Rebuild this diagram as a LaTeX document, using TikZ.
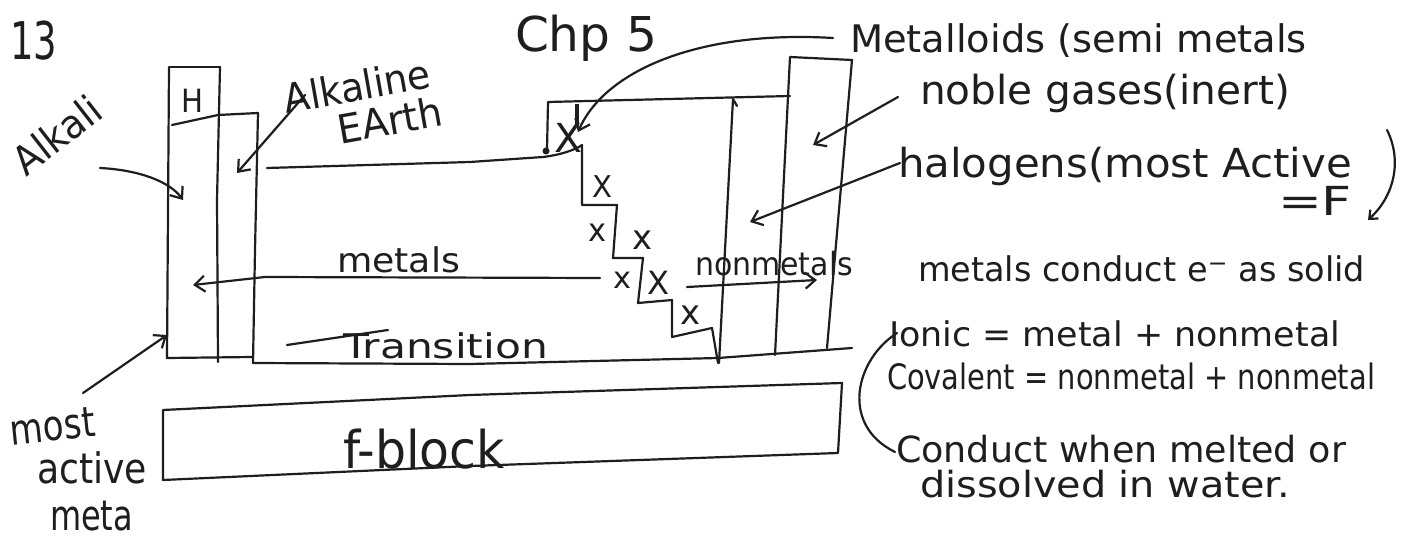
\documentclass[tikz,border=0pt]{standalone}
\usepackage{fontspec}
\setmainfont{DejaVu Sans}
\usepackage{graphicx}
\usetikzlibrary{arrows.meta}
\definecolor{ink}{HTML}{1E1E1E}
% width in pt, font size in pt, text: keeps the height, fits the width
\newcommand\hw[3]{\resizebox{#1pt}{\height}{\fontsize{#2}{#2}\selectfont #3}}
\begin{document}
\begin{tikzpicture}[x=1pt,y=-1pt,
  pen/.style={line width=2.2pt, line cap=round, line join=round, draw=ink},
  arr/.style={pen,-{Straight Barb[length=10pt,width=16pt,line width=2.2pt]}},
  lab/.style={inner sep=0pt, outer sep=0pt, text=ink, anchor=base west},
  xm/.style={inner sep=0pt, outer sep=0pt, text=ink, anchor=center}]
\useasboundingbox (0,0) rectangle (1405,540);
\fill[white] (0,0) rectangle (1405,540);

% ---- texts ----
\node[lab] (t13) at (10,60) {\hw{47}{52}{13}};
\node[lab] (chp) at (515,52) {\hw{142}{48}{Chp 5}};
\node[xm,rotate=38] (alkali) at (57,135) {\hw{100}{40}{Alkali}};
\node[xm,rotate=10] (alkaline) at (357,86) {\hw{148}{40}{Alkaline}};
\node[xm,rotate=10] (earth) at (390,120) {\hw{106}{40}{EArth}};
\node[xm] (H) at (192,101) {\hw{22}{32}{H}};
\node[lab] (metals) at (337,272) {\hw{123}{34}{metals}};
\node[lab] (transition) at (343,358) {\hw{205}{34}{Transition}};
\node[lab] (nonmetals) at (695,275) {\hw{158}{32}{nonmetals}};
\node[lab] (fblock) at (343,468) {\hw{162}{52}{f-block}};
\node[lab,rotate=6] (most) at (12,445) {\hw{85}{42}{most}};
\node[lab] (active) at (37,483) {\hw{110}{42}{active}};
\node[lab] (meta) at (50,530) {\hw{83}{42}{meta}};

\node[lab] (metalloids) at (850,53) {\hw{457}{38}{Metalloids (semi metals}};
\node[lab] (noble) at (920,105) {\hw{370}{40}{noble gases(inert)}};
\node[lab] (halogens) at (898,178) {\hw{454}{40}{halogens(most Active}};
\node[lab] (eqF) at (1278,215) {\hw{74}{40}{=F}};
\node[lab] (solid) at (918,281) {\hw{447}{34}{metals conduct e\textsuperscript{−} as solid}};
\node[lab] (ionic) at (889,346) {\hw{451}{34}{Ionic = metal + nonmetal}};
\node[lab] (covalent) at (887,389) {\hw{488}{35}{Covalent = nonmetal + nonmetal}};
\node[lab] (melted) at (896,462) {\hw{450}{36}{Conduct when melted or}};
\node[lab] (water) at (920,497) {\hw{370}{36}{dissolved in water.}};

% ---- X marks ----
\node[xm] (x1) at (568,138) {\hw{28}{40}{X}};
\node[xm] (x2) at (602,187) {\hw{20}{30}{X}};
\node[xm] (x3) at (597,233) {\hw{18}{32}{x}};
\node[xm] (x4) at (642,240) {\hw{20}{34}{x}};
\node[xm] (x5) at (622,280) {\hw{18}{30}{x}};
\node[xm] (x6) at (658,283) {\hw{22}{32}{X}};
\node[xm] (x7) at (690,315) {\hw{20}{34}{x}};

% ---- table outline ----
\draw[pen] (170,67) -- (220,67);
\draw[pen] (169,67) -- (167,358) -- (252,357);
\draw[pen] (220,67) -- (217,200) -- (218,362);
\draw[pen] (172,125) -- (218,115) -- (258,113) -- (255,250) -- (253,363) -- (470,364) -- (718,358) -- (852,348);
\draw[pen] (267,168) -- (470,162) -- (543,157) .. controls (560,155) and (575,150) .. (582,145)
  -- (582,205) -- (617,205) -- (613,258) -- (643,258) -- (638,303) -- (672,300)
  -- (672,337) -- (712,328) -- (718,363);
\draw[pen] (547,150) -- (548,102) -- (790,96);
\fill[ink] (546,151) circle (3.5);
\draw[pen] (737,106) -- (733,99) -- (719,363);
\draw[pen] (775,355) -- (790,57) -- (852,60) -- (827,348);
\draw[ink,line width=4pt] (577,104) -- (577,126);
\draw[pen] (163,410) -- (470,395) -- (842,383) -- (838,453) -- (470,466) -- (163,480) -- cycle;
\draw[pen] (287,345) -- (388,330);

% ---- arrows ----
\coordinate (aS) at (100,168); \coordinate (aE) at (183,200);
\draw[arr] (aS) .. controls (140,170) and (170,182) .. (aE);
\coordinate (eS) at (305,95); \coordinate (eE) at (237,173);
\draw[arr] (eS) -- (eE);
\coordinate (mS) at (600,278); \coordinate (mE) at (193,285);
\draw[arr] (mS) -- (265,277) -- (mE);
\coordinate (nS) at (687,287); \coordinate (nE) at (817,280);
\draw[arr] (nS) -- (nE);
\coordinate (mlS) at (833,38); \coordinate (mlE) at (578,132);
\draw[arr] (mlS) .. controls (700,30) and (605,70) .. (mlE);
\coordinate (ngS) at (898,97); \coordinate (ngE) at (813,145);
\draw[arr] (ngS) -- (ngE);
\coordinate (hS) at (900,163); \coordinate (hE) at (750,222);
\draw[arr] (hS) -- (hE);
\coordinate (maS) at (83,393); \coordinate (maE) at (167,335);
\draw[arr] (maS) -- (maE);
\coordinate (bS) at (897,333); \coordinate (bE) at (895,452);
\draw[pen] (bS) .. controls (855,360) and (840,425) .. (bE);
\coordinate (pS) at (1387,130); \coordinate (pE) at (1368,220);
\draw[pen,-{Straight Barb[length=7pt,width=12pt,line width=2.2pt]}] (pS) .. controls (1402,160) and (1395,195) .. (pE);
\end{tikzpicture}
\end{document}
